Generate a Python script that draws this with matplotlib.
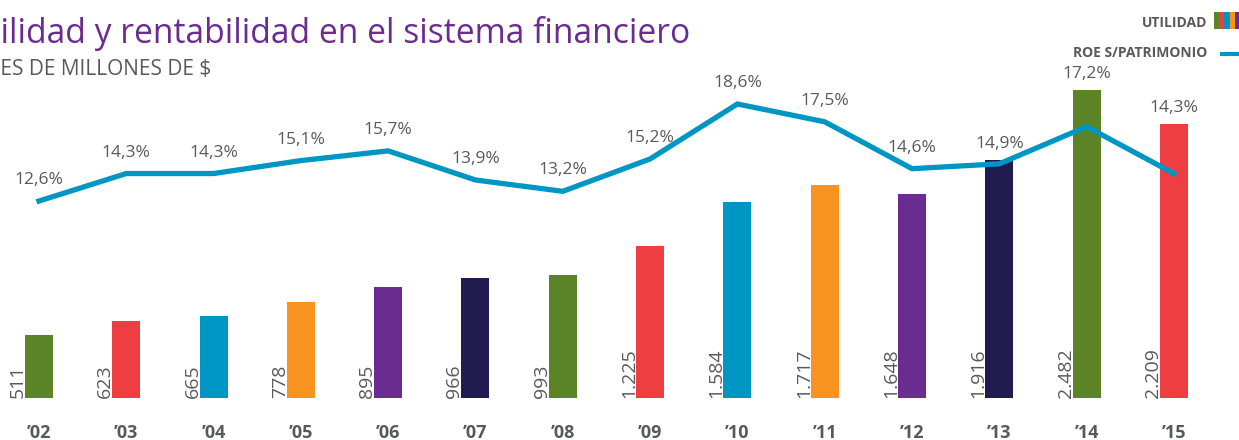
import matplotlib
matplotlib.use("Agg")
import matplotlib.pyplot as plt
from matplotlib.patches import Rectangle
from matplotlib.lines import Line2D

plt.rcParams['font.family'] = ['Open Sans', 'DejaVu Sans']

# data
years = ["’02", "’03", "’04", "’05", "’06", "’07", "’08", "’09", "’10", "’11", "’12", "’13", "’14", "’15"]
utilidad = [511, 623, 665, 778, 895, 966, 993, 1225, 1584, 1717, 1648, 1916, 2482, 2209]
roe = [12.6, 14.3, 14.3, 15.1, 15.7, 13.9, 13.2, 15.2, 18.6, 17.5, 14.6, 14.9, 17.2, 14.3]

palette = ["#5B8427", "#EF3E42", "#0096C3", "#F7931E", "#6A2C91", "#211C50"]
bar_colors = [palette[i % len(palette)] for i in range(len(years))]
grey = "#58595B"
purple = "#6A2C91"
line_blue = "#0096C3"

W, H = 1239, 440
fig = plt.figure(figsize=(W / 100, H / 100), dpi=100)
r = fig.canvas.get_renderer()

def text_width(s, **kw):
    t = fig.text(0, 0, s, **kw)
    w = t.get_window_extent(r).width
    t.remove()
    return w

# axes: baseline 42 px from bottom, top at figure top
ax = fig.add_axes([0, 42 / H, 1, 398 / H])
step = 87.3
ax.set_xlim(-39 / step, (W - 39) / step)
ax.set_ylim(0, 398 / 0.124)

bw = 28 / step
x = list(range(len(years)))
ax.bar(x, utilidad, width=bw, color=bar_colors, zorder=2)

for i, v in enumerate(utilidad):
    lab = f"{v:,}".replace(",", ".")
    ax.text(i - bw / 2 + 2 / step, 0, lab, rotation=90, ha='right', va='bottom',
            fontsize=14, color=grey, zorder=4)

for s in ax.spines.values():
    s.set_visible(False)
ax.set_yticks([])
ax.set_xticks(x)
ax.set_xticklabels(years, fontsize=13, fontweight='bold', color=grey)
ax.tick_params(axis='x', length=0, pad=19)

ax2 = ax.twinx()
ax2.set_ylim(0.42, 25.03)
ax2.plot(x, roe, color=line_blue, lw=3.8, solid_joinstyle='miter', zorder=3)
for s in ax2.spines.values():
    s.set_visible(False)
ax2.set_yticks([])

# percentage labels: above the line point or above the bar, whichever is higher
for i, (v, p) in enumerate(zip(utilidad, roe)):
    y_line = ax2.transData.transform((i, p))[1]
    y_bar = ax.transData.transform((i, v))[1]
    if y_bar > y_line:
        y_txt = y_bar + 16
    else:
        y_txt = y_line + 21
    xd = ax.transData.transform((i, 0))[0]
    fig.text(xd / W, y_txt / H, f"{p:.1f}%".replace(".", ","), ha='center', va='center',
             fontsize=12.5, color=grey)

# title and subtitle (cut at the left edge like the original)
title = "Utilidad y rentabilidad en el sistema financiero"
tw = text_width("Ut", fontsize=24.2)
fig.text((1 - tw) / W, 1 - 43 / H, title, ha='left', va='baseline', fontsize=24.2, color=purple)

subtitle = "MILES DE MILLONES DE $"
sw = text_width("MIL", fontsize=15)
fig.text(-sw / W, 1 - 75 / H, subtitle, ha='left', va='baseline', fontsize=15, color=grey)

# legend
fig.text(1207 / W, 1 - 23 / H, "UTILIDAD", ha='right', va='center', fontsize=10,
         fontweight='bold', color=grey)
for k, c in enumerate(palette):
    fig.add_artist(Rectangle(((1214 + 5.2 * k) / W, 1 - 29 / H), 5.2 / W, 17 / H,
                             transform=fig.transFigure, color=c, lw=0))
fig.text(1207 / W, 1 - 53 / H, "ROE S/PATRIMONIO", ha='right', va='center', fontsize=10,
         fontweight='bold', color=grey)
fig.add_artist(Line2D([1222 / W, 1.0], [1 - 54 / H, 1 - 54 / H], transform=fig.transFigure,
                      color=line_blue, lw=3))

fig.savefig("out.png", dpi=100)
